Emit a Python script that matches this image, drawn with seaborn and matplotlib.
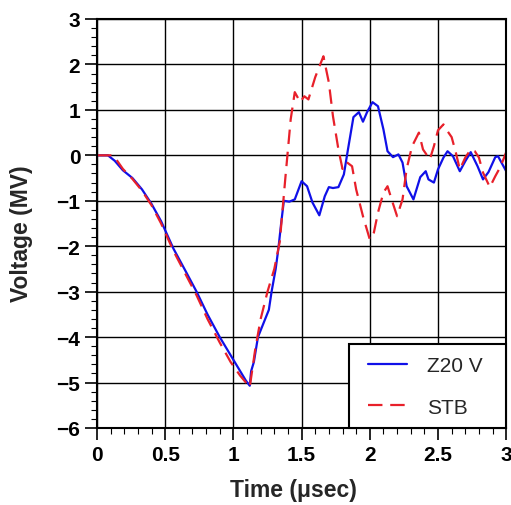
import numpy as np
import pandas as pd
import matplotlib
matplotlib.use("Agg")
import matplotlib.pyplot as plt
import seaborn as sns
from matplotlib.ticker import MultipleLocator
from matplotlib.legend_handler import HandlerLine2D
from matplotlib.lines import Line2D

t_z20 = [0, 0.08, 0.13, 0.19, 0.26, 0.33, 0.40, 0.47, 0.56, 0.65, 0.73, 0.81, 0.90,
         0.99, 1.09, 1.12, 1.13, 1.15, 1.18, 1.22, 1.26, 1.28, 1.31, 1.33, 1.35, 1.37,
         1.41, 1.45, 1.50, 1.54, 1.58, 1.63, 1.67, 1.70, 1.73, 1.77, 1.81, 1.84, 1.88,
         1.92, 1.95, 1.98, 2.02, 2.06, 2.10, 2.13, 2.17, 2.21, 2.24, 2.27, 2.32, 2.37,
         2.41, 2.43, 2.47, 2.50, 2.54, 2.57, 2.61, 2.66, 2.70, 2.74, 2.79, 2.83, 2.87,
         2.92, 2.94, 2.98, 3.0]
v_z20 = [0, 0, -0.12, -0.33, -0.5, -0.75, -1.07, -1.45, -2.05, -2.55, -3.0, -3.5, -4.0,
         -4.45, -4.95, -5.07, -4.75, -4.55, -4.0, -3.7, -3.4, -3.0, -2.5, -2.05, -1.5, -1.0,
         -1.02, -0.97, -0.57, -0.68, -1.04, -1.32, -0.9, -0.7, -0.72, -0.7, -0.42, 0.13, 0.84,
         0.95, 0.74, 0.95, 1.17, 1.08, 0.57, 0.09, -0.04, 0.02, -0.16, -0.68, -0.97, -0.48,
         -0.35, -0.53, -0.6, -0.31, -0.05, 0.09, -0.02, -0.35, -0.13, 0.07, -0.24, -0.53, -0.37,
         -0.04, -0.02, -0.24, -0.35]

t_stb = [0, 0.12, 0.19, 0.26, 0.33, 0.40, 0.47, 0.56, 0.65, 0.73, 0.81, 0.90, 0.98, 1.05,
         1.12, 1.16, 1.20, 1.25, 1.30, 1.34, 1.38, 1.42, 1.45, 1.49, 1.52, 1.55, 1.60, 1.66,
         1.70, 1.73, 1.77, 1.80, 1.83, 1.87, 1.90, 1.95, 2.00, 2.03, 2.06, 2.10, 2.13, 2.16,
         2.20, 2.24, 2.27, 2.31, 2.36, 2.39, 2.44, 2.47, 2.50, 2.54, 2.57, 2.60, 2.63, 2.66,
         2.70, 2.74, 2.77, 2.80, 2.83, 2.88, 2.92, 2.96, 3.0]
v_stb = [0, 0, -0.3, -0.52, -0.78, -1.1, -1.5, -2.1, -2.62, -3.08, -3.6, -4.12, -4.55, -4.85,
         -5.1, -4.27, -3.6, -3.0, -2.5, -1.9, -0.53, 0.79, 1.39, 1.17, 1.3, 1.23, 1.72, 2.18,
         1.6, 0.86, 0.13, -0.3, -0.15, -0.24, -0.75, -1.34, -1.85, -1.7, -1.26, -0.82, -0.68, -0.97,
         -1.34, -0.97, -0.3, 0.2, 0.5, 0.13, -0.09, 0.2, 0.55, 0.68, 0.53, 0.4, 0.07, -0.31,
         -0.05, 0.13, 0.09, -0.05, -0.38, -0.7, -0.46, -0.24, 0.07]

series_names = ["Z20 V", "STB"]
x_ticks = [0, 0.5, 1, 1.5, 2, 2.5, 3]
x_ticklabels = ["0", "0.5", "1", "1.5", "2", "2.5", "3"]
y_ticks = [-6, -5, -4, -3, -2, -1, 0, 1, 2, 3]

df = pd.concat([
    pd.DataFrame({"Time": t_z20, "Voltage": v_z20, "Series": series_names[0]}),
    pd.DataFrame({"Time": t_stb, "Voltage": v_stb, "Series": series_names[1]}),
], ignore_index=True)

sns.set_style("ticks")
plt.rcParams["font.family"] = ["Liberation Sans", "DejaVu Sans"]

fig = plt.figure(figsize=(5.11, 5.06), dpi=100)
ax = fig.add_axes([0.1898, 0.1522, 0.8008, 0.8083])

sns.lineplot(data=df, x="Time", y="Voltage", hue="Series", style="Series",
             hue_order=series_names, style_order=series_names,
             palette={"Z20 V": "#1010e8", "STB": "#e8202a"},
             dashes={"Z20 V": "", "STB": (6.5, 3.5)},
             estimator=None, sort=False, linewidth=1.6, ax=ax)

ax.set_xlim(0, 3)
ax.set_ylim(-6, 3)
ax.set_xticks(x_ticks)
ax.set_xticklabels(x_ticklabels)
ax.set_yticks(y_ticks)
ax.xaxis.set_minor_locator(MultipleLocator(0.1))
ax.yaxis.set_minor_locator(MultipleLocator(0.2))
ax.grid(True, which="major", color="black", linewidth=1.0)
ax.set_axisbelow(True)
for s in ax.spines.values():
    s.set_color("black")
    s.set_linewidth(1.5)
ax.tick_params(which="major", direction="out", length=8.5, width=1.2, colors="black",
               labelsize=15, pad=3.5)
ax.tick_params(which="minor", direction="out", length=4.5, width=0.8, colors="black")
for lab in ax.get_xticklabels() + ax.get_yticklabels():
    lab.set_fontweight("bold")

ax.set_xlabel("Time (μsec)", fontsize=16.5, fontweight="bold")
ax.set_ylabel("Voltage (MV)", fontsize=16.5, fontweight="bold")
ax.xaxis.set_label_coords(0.479, -0.122)
ax.yaxis.set_label_coords(-0.156, 0.478)

handles, labels = ax.get_legend_handles_labels()
w_frac = 157.0 / 409.0
leg = ax.legend(handles, labels, loc="lower left", mode="expand",
                bbox_to_anchor=(1 - w_frac, 0, w_frac, 0.2),
                borderaxespad=0, fancybox=False, framealpha=1,
                edgecolor="black", fontsize=15, handlelength=2.24, handletextpad=0.95,
                labelspacing=1.09, borderpad=0.55,
                handler_map={Line2D: HandlerLine2D(xpad=0.36)})
leg.get_frame().set_linewidth(1.5)

fig.savefig("out.png", dpi=100)
